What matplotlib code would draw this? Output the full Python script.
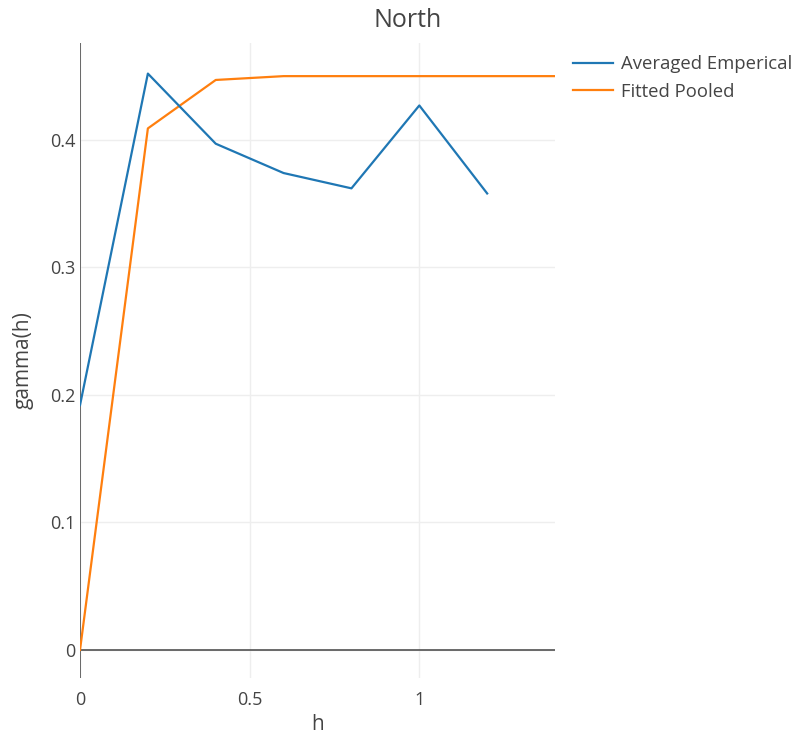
import matplotlib
matplotlib.use('Agg')
import matplotlib.pyplot as plt

plt.rcParams['font.family'] = ['Open Sans', 'DejaVu Sans']

# lag distances and semivariance values
h_emp = [0.0, 0.2, 0.4, 0.6, 0.8, 1.0, 1.2]
gamma_emp = [0.192, 0.452, 0.397, 0.374, 0.362, 0.427, 0.358]

h_fit = [0.0, 0.2, 0.4, 0.6, 0.8, 1.0, 1.2, 1.4]
gamma_fit = [0.0, 0.409, 0.447, 0.450, 0.450, 0.450, 0.450, 0.450]

x_ticks = [0, 0.5, 1]
x_tick_labels = ['0', '0.5', '1']
y_ticks = [0, 0.1, 0.2, 0.3, 0.4]
y_tick_labels = ['0', '0.1', '0.2', '0.3', '0.4']

text_color = '#444444'

fig = plt.figure(figsize=(7.97, 7.36), dpi=100)
ax = fig.add_axes([0.1004, 0.0788, 0.5960, 0.8628])

ax.plot(h_emp, gamma_emp, color='#1f77b4', lw=1.6, label='Averaged Emperical', zorder=5)
ax.plot(h_fit, gamma_fit, color='#ff7f0e', lw=1.6, label='Fitted Pooled', zorder=4)

ax.set_xlim(0, 1.4)
ax.set_ylim(-0.022, 0.476)

# plotly-like zero lines and grid
ax.axhline(0, color=text_color, lw=1.1, zorder=3)
ax.axvline(0, color=text_color, lw=1.1, zorder=3)
for s in ax.spines.values():
    s.set_visible(False)
ax.set_xticks(x_ticks)
ax.set_xticklabels(x_tick_labels)
ax.set_yticks(y_ticks)
ax.set_yticklabels(y_tick_labels)
ax.grid(color='#eeeeee', lw=1, zorder=0)
ax.set_axisbelow(True)
ax.tick_params(length=0, labelsize=13, colors=text_color)
ax.tick_params(axis='x', pad=9)
ax.tick_params(axis='y', pad=3)

ax.set_xlabel('h', fontsize=15, color=text_color, labelpad=4)
ax.set_ylabel('gamma(h)', fontsize=15, color=text_color, labelpad=12)

fig.text(0.511, 0.972, 'North', ha='center', va='center', fontsize=18, color=text_color)

fig.legend(loc='upper left', bbox_to_anchor=(0.719, 0.9246), frameon=False,
           fontsize=13.3, labelcolor=text_color, handlelength=2.15,
           handletextpad=0.45, labelspacing=0.51, borderpad=0, borderaxespad=0)

fig.savefig('out.png', dpi=100)
